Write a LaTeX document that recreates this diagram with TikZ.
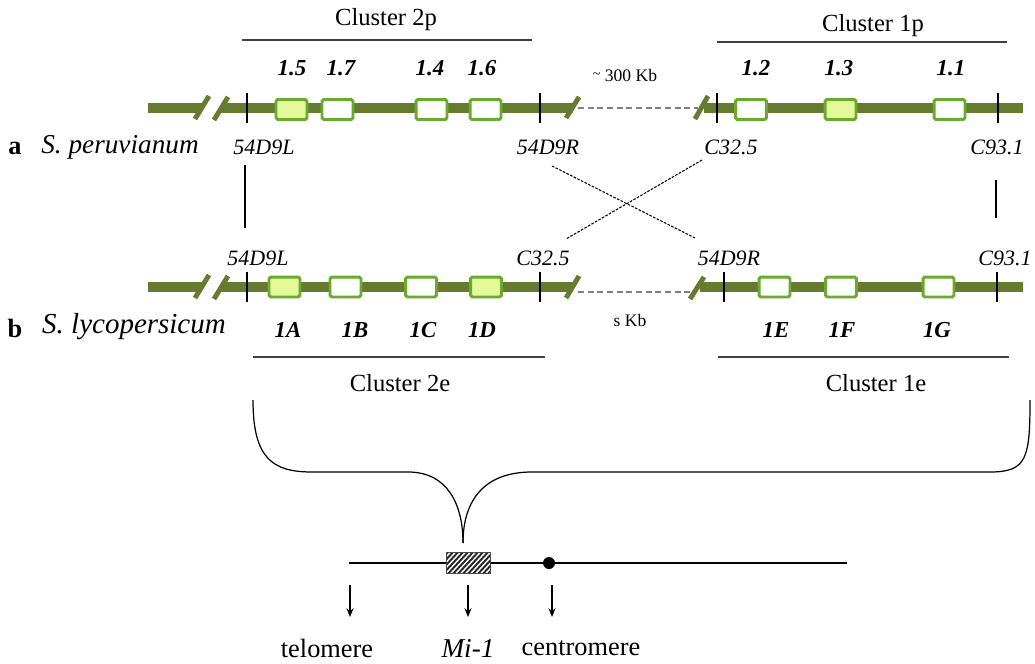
\documentclass[tikz,border=0pt]{standalone}
\usepackage{fontspec}
\setmainfont{Liberation Serif}
\usetikzlibrary{arrows.meta}
\definecolor{olive}{HTML}{667A30}
\definecolor{boxgreen}{HTML}{6AAB2E}
\definecolor{boxfill}{HTML}{E4FA9A}
\tikzset{
  chrom/.style={olive,line width=5.6pt},
  slash/.style={olive,line width=2.8pt},
  tick/.style={black,line width=0.7pt},
  gap/.style={gray,line width=0.8pt,dash pattern=on 3.5pt off 2pt},
  gbox/.style={draw=boxgreen,line width=1.7pt,rounded corners=1pt,fill=white,minimum width=0.62cm,minimum height=0.40cm,inner sep=0pt},
  gfill/.style={gbox,fill=boxfill},
  lab/.style={font=\fontsize{12.5}{14}\selectfont\itshape},
  gene/.style={font=\fontsize{13}{14}\selectfont\bfseries\itshape},
  clus/.style={font=\fontsize{14}{16}\selectfont},
  clline/.style={black!75,line width=0.8pt},
  cross/.style={black,line width=0.6pt,dash pattern=on 1.5pt off 0.8pt},
  arr/.style={-{Stealth[length=5pt,width=4pt]},line width=0.7pt},
  bottom/.style={font=\fontsize{15}{18}\selectfont}
}
\begin{document}
\begin{tikzpicture}[x=0.02cm,y=-0.02cm]
\useasboundingbox (0,0) rectangle (1035,663);

% ---------- row a ----------
\draw[chrom] (148,108) -- (202,108);
\draw[slash] (195,119) -- (209,96);
\draw[slash] (214,120) -- (228,97);
\draw[chrom] (221,108) -- (573,108);
\draw[slash] (566,118) -- (579,97);
\coordinate (ga1) at (578,108);
\coordinate (ga2) at (698,108);
\draw[gap] (ga1) -- (ga2);
\draw[slash] (695,119) -- (708,96);
\draw[chrom] (704,108) -- (1023,108);
\foreach \x in {247,540,717,998}{
  \draw[tick] (\x,93) -- (\x,123);
}
\node[gfill] (b15) at (291.5,109.5) {};
\node[gbox]  (b17) at (337.5,109.5) {};
\node[gbox]  (b14) at (431.5,109.5) {};
\node[gbox]  (b16) at (485.5,109.5) {};
\node[gbox]  (b12) at (751,109.5) {};
\node[gfill] (b13) at (840.5,109.5) {};
\node[gbox]  (b11) at (949.5,109.5) {};
\node[gene] (l15) at (292,68) {1.5};
\node[gene] (l17) at (341,68) {1.7};
\node[gene] (l14) at (430,68) {1.4};
\node[gene] (l16) at (482,68) {1.6};
\node[gene] (l12) at (756,68) {1.2};
\node[gene] (l13) at (839,68) {1.3};
\node[gene] (l11) at (951,68) {1.1};
\node[font=\fontsize{10}{12}\selectfont] (kb300) at (625,75) {\raisebox{0.3ex}{\footnotesize\char"007E} 300 Kb};

\node[lab] (aL) at (264,147) {54D9L};
\node[lab] (aR) at (548,147) {54D9R};
\node[lab] (aC) at (731,147) {C32.5};
\node[lab] (aC9) at (997,147) {C93.1};
\node[font=\fontsize{15}{18}\selectfont\bfseries] (la) at (15,148) {a};
\node[font=\fontsize{15.5}{18}\selectfont\itshape] (spa) at (120,147) {S. peruvianum};

% ---------- connections ----------
\coordinate (v1a) at (245,165); \coordinate (v1b) at (245,228);
\coordinate (v2a) at (996,180); \coordinate (v2b) at (996,218);
\draw[line width=0.8pt] (v1a) -- (v1b);
\draw[line width=0.8pt] (v2a) -- (v2b);
\coordinate (x1a) at (552,166); \coordinate (x1b) at (695,238);
\coordinate (x2a) at (702,160); \coordinate (x2b) at (566,239);
\draw[cross] (x1a) -- (x1b);
\draw[cross] (x2a) -- (x2b);

% ---------- row b ----------
\draw[chrom] (148,287) -- (202,287);
\draw[slash] (195,298) -- (209,275);
\draw[slash] (214,299) -- (228,276);
\draw[chrom] (221,287) -- (573,287);
\draw[slash] (566,298) -- (579,276);
\coordinate (gb1) at (578,292);
\coordinate (gb2) at (692,292);
\draw[gap] (gb1) -- (gb2);
\draw[slash] (690,299) -- (704,277);
\draw[chrom] (700,287) -- (1023,287);
\foreach \x in {247,540,724,997}{
  \draw[tick] (\x,272) -- (\x,302);
}
\node[gfill] (b1A) at (284.5,287) {};
\node[gbox]  (b1B) at (345.5,287) {};
\node[gbox]  (b1C) at (421,287) {};
\node[gfill] (b1D) at (486,287) {};
\node[gbox]  (b1E) at (774.5,287) {};
\node[gbox]  (b1F) at (841,287) {};
\node[gbox]  (b1G) at (938.5,287) {};
\node[gene] (l1A) at (288,330) {1A};
\node[gene] (l1B) at (355,330) {1B};
\node[gene] (l1C) at (423,330) {1C};
\node[gene] (l1D) at (482,330) {1D};
\node[gene] (l1E) at (776,330) {1E};
\node[gene] (l1F) at (842,330) {1F};
\node[gene] (l1G) at (937,330) {1G};
\node[font=\fontsize{10}{12}\selectfont] (skb) at (630,320) {s Kb};

\node[lab] (bL) at (258,258) {54D9L};
\node[lab] (bC) at (543,258) {C32.5};
\node[lab] (bR) at (729,258) {54D9R};
\node[lab] (bC9) at (1005,258) {C93.1};
\node[font=\fontsize{15}{18}\selectfont\bfseries] (lb) at (15,328) {b};
\node[font=\fontsize{16.5}{18}\selectfont\itshape] (sly) at (134,327) {S. lycopersicum};

% ---------- clusters ----------
\node[clus] (c2p) at (386,20) {Cluster 2p};
\node[clus] (c1p) at (873,26) {Cluster 1p};
\node[clus] (c2e) at (400,383) {Cluster 2e};
\node[clus] (c1e) at (876,383) {Cluster 1e};
\draw[clline] (242,40) -- (532,40);
\draw[clline] (717,42) -- (1007,42);
\draw[clline] (253,357) -- (545,357);
\draw[clline] (718,357) -- (1009,357);

% ---------- brace ----------
\coordinate (btip) at (463,543);
\draw[line width=0.7pt] (253,400) .. controls (253,458) and (272,472) .. (312,472)
  -- (408,472) .. controls (448,472) and (463,505) .. (btip);
\draw[line width=0.7pt] (btip) .. controls (463,505) and (480,472) .. (532,472)
  -- (990,472) .. controls (1027,472) and (1030,458) .. (1030,400);

% ---------- chromosome ----------
\coordinate (tel) at (349,563);
\coordinate (cend) at (847,563);
\draw[line width=1.1pt] (tel) -- (cend);
\node[fill=white,minimum width=0.88cm,minimum height=0.42cm,inner sep=0pt] (mi) at (468.5,563) {};
\begin{scope}
  \clip (mi.south west) rectangle (mi.north east);
  \foreach \i in {-30,-25,...,50}{
    \draw[line width=1.1pt,black!85] (446+\i,576) -- (446+\i+24,550);
  }
\end{scope}
\draw[black!70,line width=0.6pt] (mi.south west) rectangle (mi.north east);
\fill (549,563) circle[radius=0.12cm];
\coordinate (t1) at (350,585); \coordinate (t1e) at (350,617);
\coordinate (t2) at (468,585); \coordinate (t2e) at (468,617);
\coordinate (t3) at (552,585); \coordinate (t3e) at (552,617);
\draw[arr] (t1) -- (t1e);
\draw[arr] (t2) -- (t2e);
\draw[arr] (t3) -- (t3e);
\node[bottom] (ltel) at (327,648) {telomere};
\node[bottom,font=\fontsize{15.5}{18}\selectfont\itshape] (lmi) at (468,648) {Mi-1};
\node[bottom] (lcen) at (581,648) {centromere};
\end{tikzpicture}
\end{document}
